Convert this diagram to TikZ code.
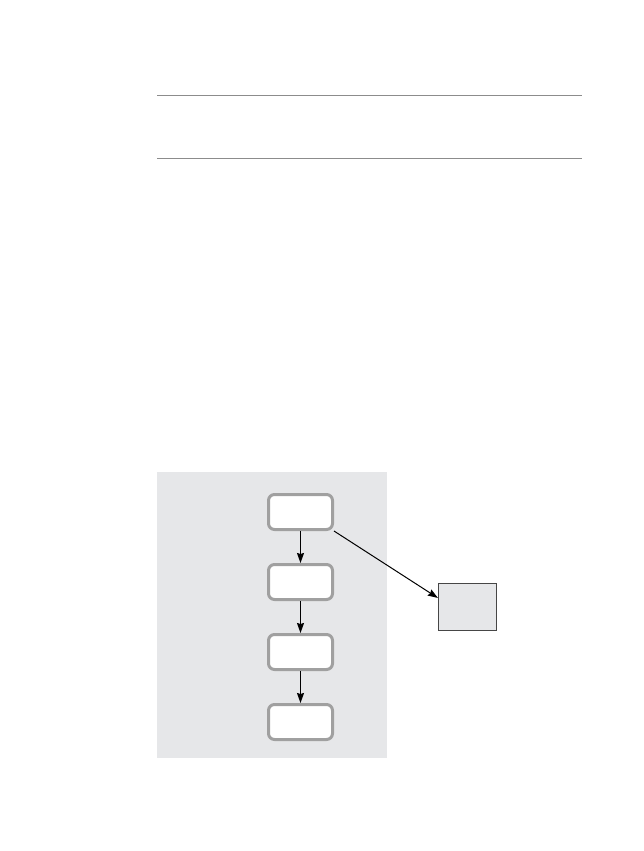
\documentclass[tikz,border=0pt]{standalone}
\usepackage{tikz}
\usepackage{xcolor}
\usetikzlibrary{shapes,arrows,positioning,backgrounds,fit,arrows.meta}

\definecolor{panelgray}{RGB}{230,231,233}
\definecolor{rulegray}{RGB}{140,140,140}
\definecolor{boxgray}{RGB}{160,160,160}
\definecolor{edgegray}{RGB}{70,70,70}

\begin{document}
\begin{tikzpicture}[x=1pt, y=-1pt,
    stagebox/.style={rectangle, draw=boxgray, line width=3pt, rounded corners=6pt,
          minimum width=64pt, minimum height=35pt, fill=white},
    sidebox/.style={rectangle, draw=edgegray, line width=1.2pt,
          minimum width=58pt, minimum height=47pt, fill=panelgray},
    flow/.style={-{Stealth[length=10pt,width=7pt,inset=1pt]}, line width=1pt, black}]
    \useasboundingbox (0,0) rectangle (644,851);

    % Header rules
    \draw[rulegray, line width=1pt] (157,95) -- (582,95);
    \draw[rulegray, line width=1pt] (157,158) -- (582,158);

    % Background panel
    \fill[panelgray] (157,472) rectangle (387,758);

    \begin{scope}
        % Chain of stages
        \node[stagebox] (first) at (300.5,512) {};
        \node[stagebox, below=32pt of first] (second) {};
        \node[stagebox, below=32pt of second] (third) {};
        \node[stagebox, below=32pt of third] (fourth) {};

        % Side box
        \node[sidebox] (side) at (467.5,607) {};

        % Connection arrows
        \draw[flow] (first) -- (second);
        \draw[flow] (second) -- (third);
        \draw[flow] (third) -- (fourth);
        \draw[flow] (first.south east) -- (side.163);
    \end{scope}
\end{tikzpicture}
\end{document}
